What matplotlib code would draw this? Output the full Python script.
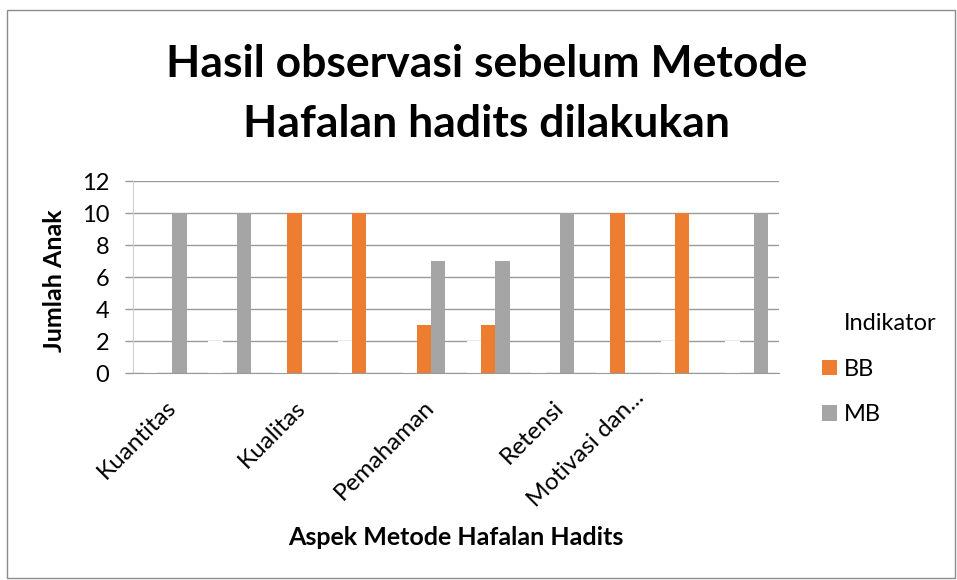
import numpy as np
import matplotlib.pyplot as plt
import matplotlib.transforms as mtransforms
from matplotlib.patches import Rectangle

# -----------------------------------------------------------------------------
# Data
# -----------------------------------------------------------------------------

# Ten rows in the sheet, Excel only shows every second label.
aspek_labels = ["Kuantitas", "Kualitas", "Pemahaman", "Retensi", "Motivasi dan..."]
n_rows = 10

# "Indikator" is a white series, only visible where it touches the 2 gridline.
indikator = [1, 2, 1, 2, 1, 2, 1, 1, 2, 2]
bb = [0, 0, 10, 10, 3, 3, 0, 10, 10, 0]
mb = [10, 10, 0, 0, 7, 7, 10, 0, 0, 10]
series_names = ["Indikator", "BB", "MB"]

y_ticks = [0, 2, 4, 6, 8, 10, 12]
title_lines = ["Hasil observasi sebelum Metode", "Hafalan hadits dilakukan"]
x_title = "Aspek Metode Hafalan Hadits"
y_title = "Jumlah Anak"

# -----------------------------------------------------------------------------
# Figure
# -----------------------------------------------------------------------------

plt.rcParams["font.family"] = "Lato"

W, H = 957, 580
GRID_C = "#9a9a9a"
ORANGE = "#ED7D31"
GREY = "#A5A5A5"

fig = plt.figure(figsize=(W / 100, H / 100), dpi=100)

# Plot area in pixels: x 133..779, y 181..373
ax = fig.add_axes([133 / W, 1 - 373 / H, (779 - 133) / W, (373 - 181) / H])

x = np.arange(n_rows)
w = 1 / 4.5  # Excel gap width 150% with three series

ax.bar(x - w, indikator, w, color="white", linewidth=0, label=series_names[0])
ax.bar(x, bb, w, color=ORANGE, linewidth=0, label=series_names[1])
ax.bar(x + w, mb, w, color=GREY, linewidth=0, label=series_names[2])

ax.set_xlim(-0.5, n_rows - 0.5)
ax.set_ylim(0, 12)
ax.set_yticks(y_ticks)
ax.yaxis.grid(True, color=GRID_C, linewidth=1.0)
ax.set_axisbelow(True)

ax.spines["top"].set_visible(False)
ax.spines["right"].set_visible(False)
ax.spines["left"].set_color("#d0d0d0")
ax.spines["bottom"].set_color(GRID_C)
ax.spines["bottom"].set_zorder(3)

ax.tick_params(axis="y", length=6, width=1, color=GRID_C, pad=11, labelsize=17)
ax.tick_params(axis="x", length=0, pad=17, labelsize=17.5)

ax.set_xticks(x[::2])
ax.set_xticklabels(aspek_labels, rotation=45, ha="right", va="top",
                   rotation_mode="anchor")
# the last label sits further up-left in the reference
last = ax.get_xticklabels()[-1]
last.set_transform(last.get_transform()
                   + mtransforms.ScaledTranslation(-0.49, 0.10, fig.dpi_scale_trans))

# Legend on the right
ax.legend(frameon=False, loc="center left",
          bbox_to_anchor=(822 / W, 1 - 369 / H), bbox_transform=fig.transFigure,
          fontsize=17, handlelength=0.62, handleheight=0.62,
          handletextpad=0.3, labelspacing=1.05, borderpad=0, borderaxespad=0)

# Titles
fig.text(487 / W, 1 - 77 / H, title_lines[0], ha="center", va="baseline",
         fontsize=32, fontweight="bold")
fig.text(487 / W, 1 - 137 / H, title_lines[1], ha="center", va="baseline",
         fontsize=32, fontweight="bold")
fig.text(456 / W, 1 - 545 / H, x_title, ha="center", va="baseline",
         fontsize=18, fontweight="bold")
fig.text(54 / W, 1 - 281 / H, y_title, ha="center", va="center", rotation=90,
         fontsize=18, fontweight="bold")

# Chart frame
fig.patches.append(Rectangle((7 / W, 1 - 578 / H), (955 - 7) / W, (578 - 10) / H,
                             transform=fig.transFigure, fill=False,
                             edgecolor="#8c8c8c", linewidth=1.0))

fig.savefig("out.png", dpi=100)
